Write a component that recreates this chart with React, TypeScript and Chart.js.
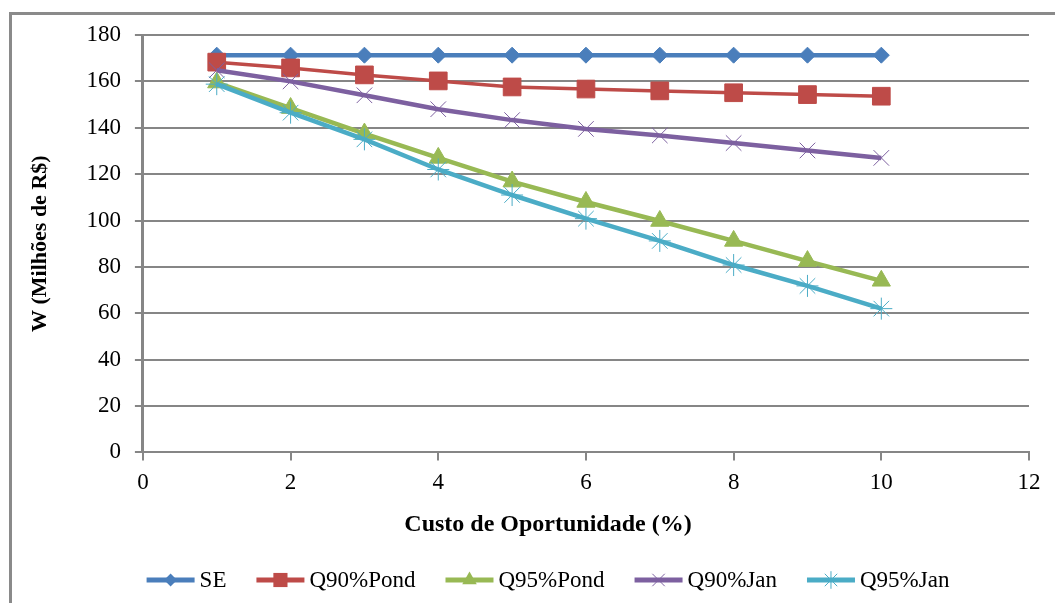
import React, { useEffect, useRef } from 'react';
import { Chart, registerables } from 'chart.js';

Chart.register(...registerables);

const costs = [1, 2, 3, 4, 5, 6, 7, 8, 9, 10];
const seValues = [171.3, 171.3, 171.3, 171.3, 171.3, 171.3, 171.3, 171.3, 171.3, 171.3];
const q90PondValues = [168.3, 165.8, 162.8, 160.2, 157.6, 156.7, 155.9, 155.1, 154.3, 153.6];
const q95PondValues = [159.5, 148.5, 137.5, 127.0, 116.8, 108.0, 99.8, 91.2, 82.5, 74.0];
const q90JanValues = [164.8, 160.0, 154.0, 148.0, 143.3, 139.5, 136.7, 133.4, 130.2, 127.0];
const q95JanValues = [158.8, 146.5, 135.0, 122.0, 111.0, 100.8, 91.2, 80.8, 71.8, 62.0];
const seriesNames = ['SE', 'Q90%Pond', 'Q95%Pond', 'Q90%Jan', 'Q95%Jan'];
const xTitle = 'Custo de Oportunidade (%)';
const yTitle = 'W (Milhões de R$)';

const FONT = '"Liberation Serif", "Times New Roman", serif';
const GRID = '#868686';

function drawMarker(ctx: CanvasRenderingContext2D, style: string, x: number, y: number, r: number, color: string, bw: number) {
  ctx.save();
  ctx.fillStyle = color;
  ctx.strokeStyle = color;
  ctx.lineWidth = bw;
  ctx.beginPath();
  if (style === 'rectRot') {
    ctx.moveTo(x, y - r);
    ctx.lineTo(x + r, y);
    ctx.lineTo(x, y + r);
    ctx.lineTo(x - r, y);
    ctx.closePath();
    ctx.fill();
  } else if (style === 'rect') {
    const s = r * Math.SQRT1_2;
    ctx.rect(x - s, y - s, 2 * s, 2 * s);
    ctx.fill();
  } else if (style === 'triangle') {
    ctx.moveTo(x, y - r);
    ctx.lineTo(x + r * Math.sin(Math.PI / 3), y + r / 2);
    ctx.lineTo(x - r * Math.sin(Math.PI / 3), y + r / 2);
    ctx.closePath();
    ctx.fill();
  } else {
    const d = r * Math.SQRT1_2;
    ctx.moveTo(x - d, y - d);
    ctx.lineTo(x + d, y + d);
    ctx.moveTo(x - d, y + d);
    ctx.lineTo(x + d, y - d);
    if (style === 'star') {
      ctx.moveTo(x, y - r);
      ctx.lineTo(x, y + r);
      ctx.moveTo(x - r, y);
      ctx.lineTo(x + r, y);
    }
    ctx.stroke();
  }
  ctx.restore();
}

const legendPlugin = {
  id: 'lineMarkerLegend',
  afterDraw(chart: any) {
    const ctx: CanvasRenderingContext2D = chart.ctx;
    ctx.save();
    // x axis title, centred on the whole chart like the original
    ctx.font = `bold 24px ${FONT}`;
    ctx.fillStyle = '#000';
    ctx.textAlign = 'center';
    ctx.textBaseline = 'middle';
    ctx.fillText(xTitle, 548, 525);

    ctx.font = `23px ${FONT}`;
    const lineLen = 48;
    const textGap = 5;
    const gap = 30;
    const items = chart.data.datasets.map((ds: any) => ({
      ds,
      w: lineLen + textGap + ctx.measureText(ds.label).width,
    }));
    const total = items.reduce((a: number, b: any) => a + b.w, 0) + gap * (items.length - 1);
    let x = 548 - total / 2;
    const y = 580;
    for (const it of items) {
      const ds = it.ds;
      ctx.strokeStyle = ds.borderColor;
      ctx.lineWidth = 5;
      ctx.beginPath();
      ctx.moveTo(x, y);
      ctx.lineTo(x + lineLen, y);
      ctx.stroke();
      drawMarker(ctx, ds.pointStyle, x + lineLen / 2, y, ds.pointRadius * 0.8, ds.borderColor, ds.pointBorderWidth);
      ctx.fillStyle = '#000';
      ctx.textBaseline = 'middle';
      ctx.textAlign = 'left';
      ctx.fillText(ds.label, x + lineLen + textGap, y + 1);
      x += it.w + gap;
    }
    ctx.restore();
  },
};

function toPoints(values: number[]) {
  return costs.map((c, i) => ({ x: c, y: values[i] }));
}

export default function App() {
  const ref = useRef<HTMLCanvasElement | null>(null);

  useEffect(() => {
    if (!ref.current) return;
    const allValues = [seValues, q90PondValues, q95PondValues, q90JanValues, q95JanValues];
    const colors = ['#4A7EBB', '#BE4B48', '#98B954', '#7D60A0', '#4BACC6'];
    const styles = ['rectRot', 'rect', 'triangle', 'crossRot', 'star'];
    const radii = [8, 12.5, 10.5, 11, 11];
    const pbw = [1, 1, 1, 1, 1];
    const lw = [4.5, 3.5, 4.5, 4.5, 4.5];
    const datasets = allValues.map((vals, i) => ({
      label: seriesNames[i],
      data: toPoints(vals),
      borderColor: colors[i],
      backgroundColor: colors[i],
      pointBackgroundColor: colors[i],
      pointBorderColor: colors[i],
      borderWidth: lw[i],
      pointStyle: styles[i],
      pointRadius: radii[i],
      pointBorderWidth: pbw[i],
      tension: 0,
      order: 4 - i,
    }));

    const chart = new Chart(ref.current, {
      type: 'line',
      data: { datasets },
      plugins: [legendPlugin],
      options: {
        animation: false,
        responsive: false,
        devicePixelRatio: 1,
        layout: { padding: { left: 10, right: 26, top: 35, bottom: 97 } },
        plugins: {
          legend: { display: false },
          tooltip: { enabled: false },
          title: { display: false },
        },
        scales: {
          x: {
            type: 'linear',
            min: 0,
            max: 12,
            ticks: { stepSize: 2, color: '#000', font: { family: FONT, size: 23 }, padding: 9, maxRotation: 0 },
            grid: { drawOnChartArea: false, drawTicks: true, tickLength: 8, color: GRID, lineWidth: 2 },
            border: { color: GRID, width: 2 },
            title: { display: false },
          },
          y: {
            type: 'linear',
            min: 0,
            max: 180,
            ticks: { stepSize: 20, color: '#000', font: { family: FONT, size: 23 }, padding: 14 },
            grid: { drawOnChartArea: true, drawTicks: true, tickLength: 8, color: GRID, lineWidth: 2 },
            border: { color: GRID, width: 3 },
            title: {
              display: true,
              text: yTitle,
              color: '#000',
              font: { family: FONT, size: 22, weight: 'bold' },
              padding: { top: 17, bottom: 19 },
            },
          },
        },
      } as any,
    });
    return () => chart.destroy();
  }, []);

  return (
    <div style={{ position: 'fixed', left: 0, top: 0, width: 1055, height: 603, overflow: 'hidden', background: '#fff' }}>
      <div
        style={{
          position: 'absolute',
          left: 9,
          top: 12,
          width: 1200,
          height: 800,
          borderLeft: '3px solid #8a8a8a',
          borderTop: '3px solid #8a8a8a',
        }}
      />
      <canvas ref={ref} width={1055} height={603} style={{ position: 'absolute', left: 0, top: 0 }} />
    </div>
  );
}
